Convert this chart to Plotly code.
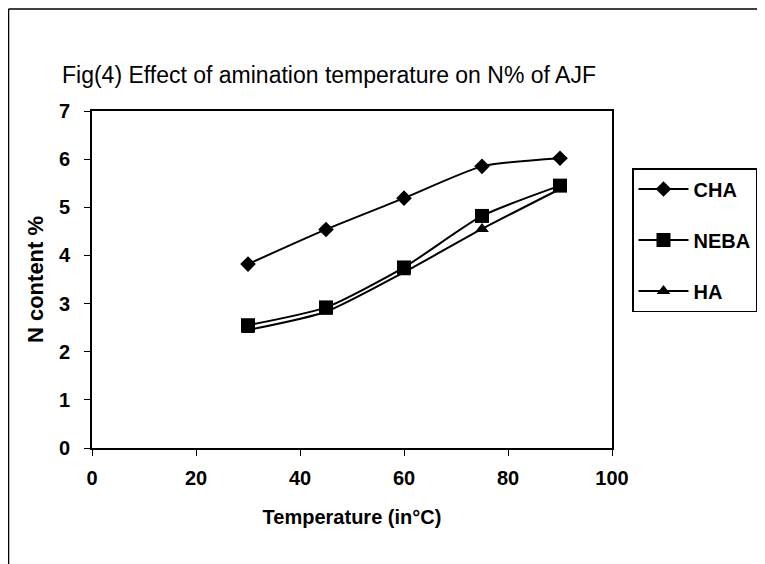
import plotly.graph_objects as go

temperature = [30, 45, 60, 75, 90]
cha = [3.82, 4.54, 5.19, 5.85, 6.02]
neba = [2.55, 2.92, 3.75, 4.82, 5.45]
ha = [2.45, 2.83, 3.65, 4.55, 5.38]

FONT = "Liberation Sans, Arial, sans-serif"

fig = go.Figure()
series = [
    ("CHA", cha, "diamond", 12),
    ("NEBA", neba, "square", 14),
    ("HA", ha, "triangle-up", 12),
]
for i, (name, vals, sym, sz) in enumerate(series):
    fig.add_trace(go.Scatter(
        x=temperature, y=vals, name=name, mode="lines+markers",
        line=dict(color="black", width=2, shape="spline", smoothing=0.6),
        marker=dict(symbol=sym, size=sz, color="black"),
        legendgroup=f"g{i}",
    ))

L, R, T, B = 84, 161, 103, 124
PW, PH = 765 - L - R, 564 - T - B

fig.update_layout(
    width=765, height=564,
    paper_bgcolor="white", plot_bgcolor="white",
    margin=dict(l=L, r=R, t=T, b=B),
    title=dict(text="Fig(4) Effect of amination temperature on N% of AJF",
               x=54/765, xanchor="left", y=1-67/564, yanchor="middle",
               font=dict(family=FONT, size=23, color="black")),
    xaxis=dict(range=[0, 100], tickvals=[0, 20, 40, 60, 80, 100],
               showgrid=False, zeroline=False, showline=True, linecolor="black",
               linewidth=2, mirror=True, ticks="outside", ticklen=6, tickcolor="black",
               ticklabelstandoff=5,
               tickfont=dict(family=FONT, size=20, color="black", weight="bold"),
               title=dict(text="Temperature (in°C)", standoff=22,
                          font=dict(family=FONT, size=20, color="black", weight="bold"))),
    yaxis=dict(range=[0, 7], tickvals=list(range(8)),
               showgrid=False, zeroline=False, showline=True, linecolor="black",
               linewidth=2, mirror=True, ticks="outside", ticklen=6, tickcolor="black",
               ticklabelstandoff=10,
               tickfont=dict(family=FONT, size=20, color="black", weight="bold"),
               title=dict(text="N content %", standoff=9,
                          font=dict(family=FONT, size=22, color="black", weight="bold"))),
    legend=dict(x=(632 - 8 - L)/PW, xanchor="left", y=(440 - 160)/PH, yanchor="top",
                bordercolor="black", borderwidth=1.5, bgcolor="white",
                tracegroupgap=22, itemwidth=50,
                font=dict(family=FONT, size=20, color="black", weight="bold")),
    shapes=[
        dict(type="line", xref="paper", yref="paper", x0=-L/PW + 0.001, x1=1 + R/PW,
             y0=1 + (T - 1)/PH, y1=1 + (T - 1)/PH, line=dict(color="black", width=1.5)),
        dict(type="line", xref="paper", yref="paper", x0=-L/PW + 0.001, x1=-L/PW + 0.001,
             y0=1 + (T - 1)/PH, y1=-B/PH, line=dict(color="black", width=1.5)),
    ],
)

fig.write_html("out.html")
